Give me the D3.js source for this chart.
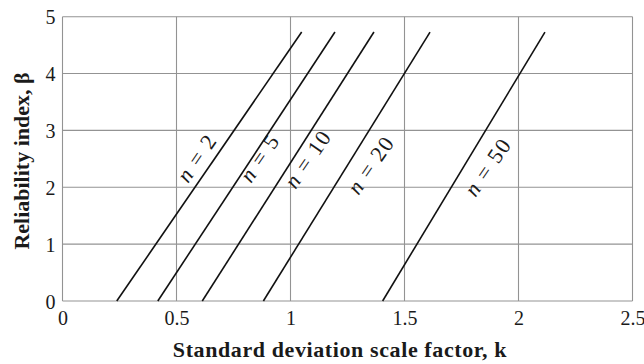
<!DOCTYPE html>
<html>
<head>
<meta charset="utf-8">
<script src="https://cdn.jsdelivr.net/npm/d3@7"></script>
<style>
  body { margin: 0; background: #fff; }
  svg text { font-family: "Liberation Serif", "DejaVu Serif", serif; fill: #1a1a1a; }
</style>
</head>
<body>
<svg></svg>
<script>
// data
let nValues = [2, 5, 10, 20, 50]
let kStart = [0.238, 0.418, 0.613, 0.881, 1.404]   // k at beta = 0
let kEnd = [1.049, 1.195, 1.366, 1.612, 2.116]     // k at beta = 4.73
let betaStart = 0
let betaEnd = 4.73
let xTicks = [0, 0.5, 1, 1.5, 2, 2.5]
let yTicks = [0, 1, 2, 3, 4, 5]
// label centre points (k, beta) next to each curve
let labelK = [0.59, 0.866, 1.077, 1.353, 1.866]
let labelBeta = [2.515, 2.515, 2.497, 2.392, 2.357]

let width = 644
let height = 364
let padLeft = 62.5, padRight = 632.5, padTop = 16.7, padBottom = 301

let svg = d3.select('svg').attr('width', width).attr('height', height)

let xScale = d3.scaleLinear().domain([0, 2.5]).range([padLeft, padRight])
let yScale = d3.scaleLinear().domain([0, 5]).range([padBottom, padTop])

// grid
svg.append('g')
  .selectAll('line')
  .data(xTicks)
  .enter()
  .append('line')
  .attr('x1', d => xScale(d)).attr('x2', d => xScale(d))
  .attr('y1', padTop).attr('y2', padBottom)
  .attr('stroke', '#939393').attr('stroke-width', 1.1)

svg.append('g')
  .selectAll('line')
  .data(yTicks)
  .enter()
  .append('line')
  .attr('y1', d => yScale(d)).attr('y2', d => yScale(d))
  .attr('x1', padLeft).attr('x2', padRight)
  .attr('stroke', '#939393').attr('stroke-width', 1.1)

// axes (labels only, frame is the grid)
let xAxis = d3.axisBottom(xScale).tickValues(xTicks).tickSize(0).tickPadding(0)
  .tickFormat(d3.format('~g'))
let yAxis = d3.axisLeft(yScale).tickValues(yTicks).tickSize(0).tickPadding(0)
  .tickFormat(d3.format('d'))

let gx = svg.append('g').attr('id', 'x-axis')
  .attr('transform', 'translate(0,' + padBottom + ')').call(xAxis)
gx.select('.domain').remove()
gx.selectAll('text').attr('dy', null).attr('y', 24)
  .style('font-size', '20px').style('font-family', '"Liberation Serif", serif')

let gy = svg.append('g').attr('id', 'y-axis')
  .attr('transform', 'translate(' + (padLeft - 7) + ',0)').call(yAxis)
gy.select('.domain').remove()
gy.selectAll('text').attr('dy', '0.36em')
  .style('font-size', '20px').style('font-family', '"Liberation Serif", serif')

// curves
let line = d3.line().x(d => xScale(d[0])).y(d => yScale(d[1]))
nValues.forEach((n, i) => {
  svg.append('path')
    .datum([[kStart[i], betaStart], [kEnd[i], betaEnd]])
    .attr('d', line)
    .attr('fill', 'none')
    .attr('stroke', '#111')
    .attr('stroke-width', 1.6)
})

// curve labels
let angle = -Math.atan2(yScale(0) - yScale(betaEnd), xScale(kEnd[0]) - xScale(kStart[0])) * 180 / Math.PI
nValues.forEach((n, i) => {
  let t = svg.append('text')
    .attr('text-anchor', 'middle')
    .attr('dy', '0.33em')
    .style('font-size', '22px')
    .style('letter-spacing', '1.5px')
    .attr('transform', 'translate(' + xScale(labelK[i]) + ',' + yScale(labelBeta[i]) + ') rotate(' + angle + ')')
  t.append('tspan').style('font-style', 'italic').text('n')
  t.append('tspan').text(' = ' + n)
})

// axis titles
svg.append('text')
  .attr('x', 340)
  .attr('y', 357)
  .attr('text-anchor', 'middle')
  .style('font-weight', 'bold')
  .style('font-size', '22px')
  .style('letter-spacing', '0.6px')
  .text('Standard deviation scale factor, k')

svg.append('text')
  .attr('transform', 'translate(29,161) rotate(-90)')
  .attr('text-anchor', 'middle')
  .style('font-weight', 'bold')
  .style('font-size', '22px')
  .text('Reliability index, β')
</script>
</body>
</html>
